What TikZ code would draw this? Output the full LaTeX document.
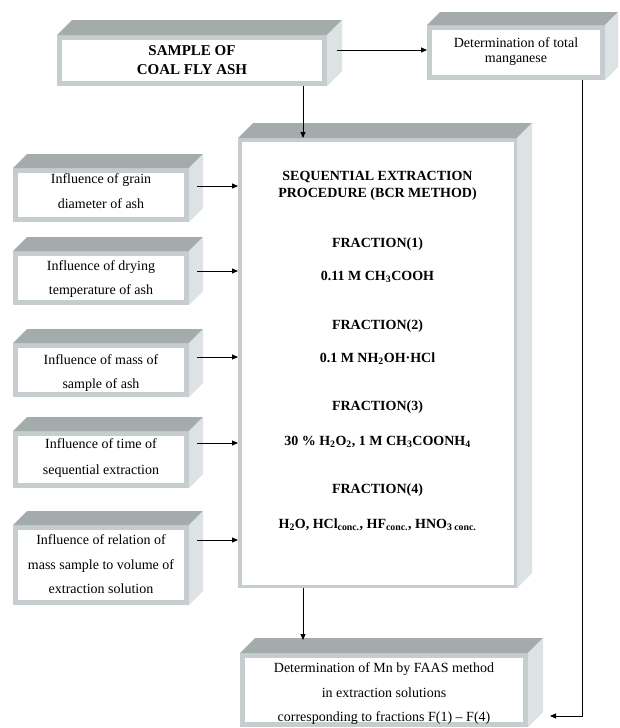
\documentclass[tikz,border=0pt]{standalone}
\usepackage{fontspec}
\setmainfont{Liberation Serif}[BoldFont={Liberation Serif Bold}]
\usetikzlibrary{arrows.meta,calc}
\definecolor{topc}{RGB}{163,171,171}
\definecolor{sidec}{RGB}{221,227,228}
\definecolor{framec}{RGB}{197,205,206}
\newcommand\cubefaces[2]{%
  \fill[topc] (#1.north west) -- (#1.north east) -- ($(#1.north east)+(#2,-#2)$) -- ($(#1.north west)+(#2,-#2)$) -- cycle;
  \fill[sidec] (#1.north east) -- ($(#1.north east)+(#2,-#2)$) -- ($(#1.south east)+(#2,-#2)$) -- (#1.south east) -- cycle;}
\tikzset{
  front/.style={draw=framec,fill=white,line width=5pt,inner sep=0pt},
  txt/.style={anchor=base,font=\fontsize{14pt}{17pt}\selectfont,inner sep=0pt},
  bigtxt/.style={anchor=base,font=\bfseries\fontsize{14pt}{17pt}\selectfont,inner sep=0pt},
  arr/.style={line width=0.9pt,-{Triangle[length=6pt,width=5pt]}}
}
\begin{document}
\begin{tikzpicture}[x=1pt,y=-1pt]
\useasboundingbox (0,0) rectangle (619,728);
% front faces
\node[front,minimum width=265,minimum height=46] (sample) at (192,60.5) {};
\node[front,minimum width=173,minimum height=50] (total) at (516,52.5) {};
\node[front,line width=3.5pt,minimum width=275.5,minimum height=446.5] (big) at (377.5,363) {};
\node[front,minimum width=283,minimum height=69] (bottom) at (384,690) {};
\node[front,minimum width=171,minimum height=49] (b1) at (101,195) {};
\node[front,minimum width=171,minimum height=49] (b2) at (101,278) {};
\node[front,minimum width=171,minimum height=49] (b3) at (101,370) {};
\node[front,minimum width=171,minimum height=52] (b4) at (101,459.5) {};
\node[front,minimum width=171,minimum height=75] (b5) at (101,565) {};
% 3D faces
\cubefaces{sample}{15}
\cubefaces{total}{13}
\cubefaces{big}{15}
\cubefaces{bottom}{15}
\cubefaces{b1}{14}
\cubefaces{b2}{14}
\cubefaces{b3}{14}
\cubefaces{b4}{14}
\cubefaces{b5}{14}
% box texts
\node[bigtxt,font=\bfseries\fontsize{15pt}{19pt}\selectfont] (s1t) at (192,55) {SAMPLE OF};
\node[bigtxt,font=\bfseries\fontsize{15pt}{19pt}\selectfont] (s2t) at (192,74) {COAL FLY ASH};
\node[txt] (m1t) at (516,47) {Determination of total};
\node[txt] (m2t) at (516,62.5) {manganese};
\node[txt] (l11) at (101,183) {Influence of grain};
\node[txt] (l12) at (101,208) {diameter of ash};
\node[txt] (l21) at (101,270) {Influence of drying};
\node[txt] (l22) at (101,294) {temperature of ash};
\node[txt] (l31) at (101,364) {Influence of mass of};
\node[txt] (l32) at (101,388) {sample of ash};
\node[txt] (l41) at (101,448) {Influence of time of};
\node[txt] (l42) at (101,474) {sequential extraction};
\node[txt] (l51) at (101,544) {Influence of relation of};
\node[txt] (l52) at (101,569) {mass sample to volume of};
\node[txt] (l53) at (101,593) {extraction solution};
\node[txt] (d1t) at (384,672) {Determination of Mn by FAAS method};
\node[txt] (d2t) at (384,697) {in extraction solutions};
\node[txt] (d3t) at (384,721) {corresponding to fractions F(1) – F(4)};
% big box text
\node[bigtxt] (t1) at (377.5,180) {SEQUENTIAL EXTRACTION};
\node[bigtxt] (t2) at (377.5,197) {PROCEDURE (BCR METHOD)};
\node[bigtxt] (t3) at (377.5,247) {FRACTION(1)};
\node[bigtxt] (t4) at (377.5,280) {0.11 M CH\textsubscript{3}COOH};
\node[bigtxt] (t5) at (377.5,329) {FRACTION(2)};
\node[bigtxt] (t6) at (377.5,362) {0.1 M NH\textsubscript{2}OH·HCl};
\node[bigtxt] (t7) at (377.5,410) {FRACTION(3)};
\node[bigtxt] (t8) at (377.5,445) {30 \% H\textsubscript{2}O\textsubscript{2}, 1 M CH\textsubscript{3}COONH\textsubscript{4}};
\node[bigtxt] (t9) at (377.5,493) {FRACTION(4)};
\node[bigtxt] (t10) at (377.5,528) {H\textsubscript{2}O, HCl\textsubscript{conc.}, HF\textsubscript{conc.}, HNO\textsubscript{3 conc.}};
% coordinates
\coordinate (xa) at (303,0);
\coordinate (tx) at (582,0);
\coordinate (s1) at (337,50);
\coordinate (btop) at (303,640);
\coordinate (bin) at (550,716);
\coordinate (a1) at (197,186);
\coordinate (a2) at (197,271);
\coordinate (a3) at (197,357);
\coordinate (a4) at (197,443);
\coordinate (a5) at (197,540);
% connectors
\draw[arr] (s1) -- (total.west |- s1);
\draw[arr] (sample.south -| xa) -- (big.north -| xa);
\draw[arr] (big.south -| xa) -- (btop);
\draw[arr] (total.south -| tx) |- (bin);
\draw[arr] (a1) -- (big.west |- a1);
\draw[arr] (a2) -- (big.west |- a2);
\draw[arr] (a3) -- (big.west |- a3);
\draw[arr] (a4) -- (big.west |- a4);
\draw[arr] (a5) -- (big.west |- a5);
\end{tikzpicture}
\end{document}
